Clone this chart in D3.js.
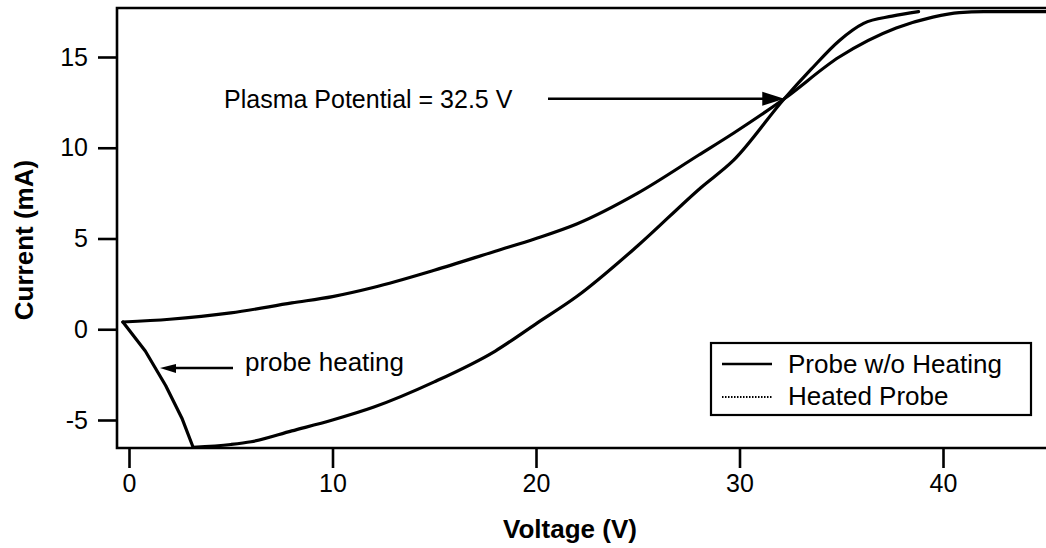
<!DOCTYPE html>
<html>
<head>
<meta charset="utf-8">
<script src="https://cdn.jsdelivr.net/npm/d3@7"></script>
<style>
  html, body { margin: 0; padding: 0; background: #fff; }
  svg { display: block; }
  text { font-family: "Liberation Sans", Arial, Helvetica, sans-serif; fill: #000; }
</style>
</head>
<body>
<svg id="chart" width="1046" height="548"></svg>
<script>
// ---- data ----
const xTicks = [0, 10, 20, 30, 40];
const yTicks = [-5, 0, 5, 10, 15];

const voltsNoHeat   = [-0.3, 2, 5, 8, 10, 12, 15, 18, 20, 22, 25, 28, 29.7, 32.2, 34.9, 37.7, 39.5, 40.8, 42, 46];
const currentNoHeat = [0.4, 0.55, 0.9, 1.45, 1.8, 2.3, 3.25, 4.3, 5.0, 5.8, 7.5, 9.6, 10.8, 12.7, 15.0, 16.6, 17.2, 17.45, 17.5, 17.5];

// heating drop (first 5 points) then recovery branch
const voltsHeated   = [-0.3, 0.8, 1.8, 2.6, 3.15, 5, 6, 8, 10, 12, 15, 18, 20, 22, 25, 28.1, 29.7, 32.2, 33.5, 34.9, 36.1, 37.5, 38.8];
const currentHeated = [0.4, -1.2, -3.1, -4.9, -6.5, -6.35, -6.2, -5.6, -5.0, -4.3, -2.9, -1.2, 0.3, 1.8, 4.6, 7.8, 9.3, 12.7, 14.3, 15.9, 16.85, 17.25, 17.5];

const seriesNames = ["Probe w/o Heating", "Heated Probe"];
const xTitle = "Voltage (V)";
const yTitle = "Current (mA)";
const plasmaLabel = "Plasma Potential = 32.5 V";
const plasmaPoint = [32.2, 12.7];
const heatingLabel = "probe heating";

// ---- layout ----
const svg = d3.select("#chart");
const frameLeft = 117, frameTop = 8, frameBottom = 448, frameRight = 1050;

const x = d3.scaleLinear().domain([0, 40]).range([129, 943]);
const y = d3.scaleLinear().domain([-5, 15]).range([420, 57]);

const font = '"Liberation Sans", Arial, Helvetica, sans-serif';
const fmt = d => String(d);

// frame
svg.append("path")
  .attr("d", `M${frameRight},${frameTop}H${frameLeft}V${frameBottom}H${frameRight}`)
  .attr("fill", "none").attr("stroke", "#000").attr("stroke-width", 2.6);

// axes
const xAxis = d3.axisBottom(x).tickValues(xTicks).tickSize(20).tickPadding(6).tickFormat(fmt);
const gx = svg.append("g").attr("transform", `translate(0,${frameBottom})`).call(xAxis);
gx.select(".domain").remove();
gx.selectAll(".tick line").attr("stroke", "#000").attr("stroke-width", 2.6);
gx.selectAll(".tick text").attr("font-family", font).attr("font-size", 25).attr("fill", "#000");

const yAxis = d3.axisLeft(y).tickValues(yTicks).tickSize(19).tickPadding(10).tickFormat(fmt);
const gy = svg.append("g").attr("transform", `translate(${frameLeft},0)`).call(yAxis);
gy.select(".domain").remove();
gy.selectAll(".tick line").attr("stroke", "#000").attr("stroke-width", 2.6);
gy.selectAll(".tick text").attr("font-family", font).attr("font-size", 25).attr("fill", "#000");

// axis titles
svg.append("text").attr("x", 570).attr("y", 538).attr("text-anchor", "middle")
  .attr("font-size", 26).attr("font-weight", "bold").text(xTitle);
svg.append("text").attr("transform", "translate(33,240) rotate(-90)").attr("text-anchor", "middle")
  .attr("font-size", 26).attr("font-weight", "bold").text(yTitle);

// curves
const lineLin = d3.line().x(d => x(d[0])).y(d => y(d[1])).curve(d3.curveLinear);
const lineSmooth = d3.line().x(d => x(d[0])).y(d => y(d[1])).curve(d3.curveMonotoneX);
const noHeat = voltsNoHeat.map((v, i) => [v, currentNoHeat[i]]);
const heated = voltsHeated.map((v, i) => [v, currentHeated[i]]);

svg.append("clipPath").attr("id", "plotclip").append("rect")
  .attr("x", frameLeft).attr("y", frameTop).attr("width", frameRight - frameLeft).attr("height", frameBottom - frameTop);

const plot = svg.append("g").attr("clip-path", "url(#plotclip)");
const strokeStyle = sel => sel.attr("fill", "none").attr("stroke", "#000")
  .attr("stroke-width", 3.2).attr("stroke-linejoin", "round").attr("stroke-linecap", "round");

plot.append("path").datum(noHeat).attr("d", lineSmooth).call(strokeStyle);
plot.append("path").datum(heated.slice(0, 5)).attr("d", lineLin).call(strokeStyle);
plot.append("path").datum(heated.slice(4)).attr("d", lineSmooth).call(strokeStyle);

// plasma potential annotation
const px = x(plasmaPoint[0]), py = y(plasmaPoint[1]);
svg.append("text").attr("x", 224).attr("y", py + 9).attr("font-size", 25).text(plasmaLabel);
svg.append("line").attr("x1", 548).attr("y1", py).attr("x2", px - 18).attr("y2", py)
  .attr("stroke", "#000").attr("stroke-width", 2.6);
svg.append("path").attr("d", `M${px},${py}L${px - 22},${py - 7}L${px - 22},${py + 7}Z`).attr("fill", "#000");

// probe heating annotation
const hy = 368;
svg.append("line").attr("x1", 233).attr("y1", hy).attr("x2", 170).attr("y2", hy)
  .attr("stroke", "#000").attr("stroke-width", 2.6);
svg.append("path").attr("d", `M160,${hy}L176,${hy - 4}L176,${hy + 5}Z`).attr("fill", "#000");
svg.append("text").attr("x", 245).attr("y", 371).attr("font-size", 26).text(heatingLabel);

// legend
const lg = svg.append("g");
lg.append("rect").attr("x", 711).attr("y", 343).attr("width", 320).attr("height", 72)
  .attr("fill", "#fff").attr("stroke", "#000").attr("stroke-width", 2.2);
lg.append("line").attr("x1", 722).attr("x2", 772).attr("y1", 364).attr("y2", 364)
  .attr("stroke", "#000").attr("stroke-width", 2.6);
lg.append("line").attr("x1", 722).attr("x2", 772).attr("y1", 397).attr("y2", 397)
  .attr("stroke", "#000").attr("stroke-width", 2).attr("stroke-dasharray", "1.5,1.5");
lg.append("text").attr("x", 788).attr("y", 373).attr("font-size", 26).text(seriesNames[0]);
lg.append("text").attr("x", 788).attr("y", 405).attr("font-size", 26).text(seriesNames[1]);
</script>
</body>
</html>
